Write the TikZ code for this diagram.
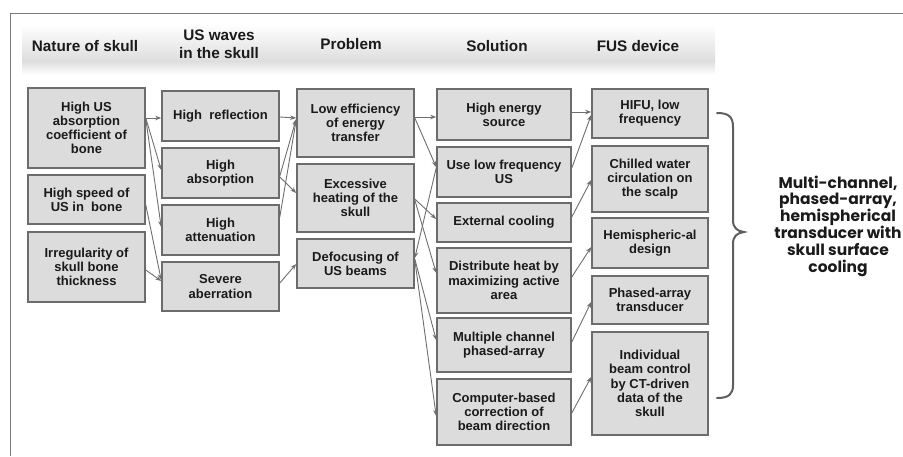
\documentclass[tikz,border=0pt]{standalone}
\usepackage{fontspec}
\setmainfont{Liberation Sans}
\newfontfamily\geofont{Poppins}
\usetikzlibrary{arrows.meta}
\definecolor{boxfill}{HTML}{DCDCDC}
\definecolor{boxline}{HTML}{6C6C6C}
\definecolor{arrline}{HTML}{6E6E6E}
\definecolor{ink}{HTML}{1A1A1A}
\definecolor{band}{HTML}{DEDEDE}
\definecolor{framec}{HTML}{7A7A7A}
\definecolor{bracec}{HTML}{5E5E5E}

\begin{document}
\begin{tikzpicture}[x=1pt,y=-1pt,
  box/.style={draw=boxline, fill=boxfill, line width=1.6pt, text=ink,
    align=center, inner sep=0pt,
    font=\bfseries\fontsize{13}{14.2}\selectfont},
  arr/.style={draw=arrline, line width=0.9pt,
    -{Stealth[length=6pt,width=4.5pt]}},
  hdr/.style={text=ink, align=center,
    font=\bfseries\fontsize{15.3}{18}\selectfont},
  wA/.style={minimum width=117pt},
  wD/.style={minimum width=134pt},
  wE/.style={minimum width=116pt},
]
\useasboundingbox (0,0) rectangle (903,456);

% outer frame (left and top edges)
\draw[framec, line width=1pt] (10,456) -- (10,13) -- (903,13);

% header band
\shade[top color=white, bottom color=band] (22,24) rectangle (715,61);
\shade[top color=band, bottom color=white] (22,61) rectangle (715,75);

% column headings
\node[hdr] (h1) at (85,46) {Nature of skull};
\node[hdr] (h2) at (219,44) {US waves\\in the skull};
\node[hdr] (h3) at (351,44) {Problem};
\node[hdr] (h4) at (497,46) {Solution};
\node[hdr] (h5) at (638,46) {FUS device};

% nature of skull
\node[box, wA, minimum height=80pt] (A1) at (86.5,128) {High US\\absorption\\coefficient of\\bone};
\node[box, wA, minimum height=49pt] (A2) at (86.5,199.5) {High speed of\\US in\ \ bone};
\node[box, wA, minimum height=70pt] (A3) at (86.5,267) {Irregularity of\\skull bone\\thickness};

% US waves in the skull
\node[box, wA, minimum height=50pt] (B1) at (220.5,116) {High\ \ reflection};
\node[box, wA, minimum height=50pt] (B2) at (220.5,173) {High\\absorption};
\node[box, wA, minimum height=50pt] (B3) at (220.5,230) {High\\attenuation};
\node[box, wA, minimum height=49pt] (B4) at (220.5,286.5) {Severe\\aberration};

% problem
\node[box, wA, minimum height=68pt] (C1) at (355.5,123) {Low efficiency\\of energy\\transfer};
\node[box, wA, minimum height=68pt] (C2) at (355.5,198) {Excessive\\heating of the\\skull};
\node[box, wA, minimum height=49pt] (C3) at (355.5,263.5) {Defocusing of\\US beams};

% solution
\node[box, wD, minimum height=51pt] (D1) at (504,114.5) {High energy\\source};
\node[box, wD, minimum height=50pt] (D2) at (504,172) {Use low frequency\\US};
\node[box, wD, minimum height=39pt] (D3) at (504,222.5) {External cooling};
\node[box, wD, minimum height=65pt] (D4) at (504,280.5) {Distribute heat by\\maximizing active\\area};
\node[box, wD, minimum height=54pt] (D5) at (504,345) {Multiple channel\\phased-array};
\node[box, wD, minimum height=66pt] (D6) at (504,412) {Computer-based\\correction of\\beam direction};

% FUS device
\node[box, wE, minimum height=49pt] (E1) at (650,113.5) {HIFU, low\\frequency};
\node[box, wE, minimum height=66pt] (E2) at (650,179) {Chilled water\\circulation on\\the scalp};
\node[box, wE, minimum height=50pt] (E3) at (650,243) {Hemispheric-al\\design};
\node[box, wE, minimum height=48pt] (E4) at (650,300) {Phased-array\\transducer};
\node[box, wE, minimum height=103pt] (E5) at (650,383.5) {Individual\\beam control\\by CT-driven\\data of the\\skull};

% nature of skull -> US waves
\draw[arr] (A1.east |- 0,118) -- (B1.west |- 0,118);
\draw[arr] (A1.east |- 0,118) -- (B2.west |- 0,170);
\draw[arr] (A1.east |- 0,119) -- (B3.west |- 0,227);
\draw[arr] (A2.east |- 0,205) -- (B4.west |- 0,280);
\draw[arr] (A3.east |- 0,270) -- (B4.west |- 0,281);

% US waves -> problem
\draw[arr] (B1.east |- 0,117) -- (C1.west |- 0,118);
\draw[arr] (B2.east |- 0,176) -- (C1.west |- 0,119);
\draw[arr] (B2.east |- 0,177) -- (C2.west |- 0,193);
\draw[arr] (B3.east |- 0,217) -- (C1.west |- 0,120);
\draw[arr] (B4.east |- 0,283) -- (C3.west |- 0,264);

% problem -> solution
\draw[arr] (C1.east |- 0,117) -- (D1.west |- 0,117);
\draw[arr] (C1.east |- 0,118) -- (D2.west |- 0,167);
\draw[arr] (C2.east |- 0,199) -- (D3.west |- 0,219);
\draw[arr] (C2.east |- 0,200) -- (D4.west |- 0,273);
\draw[arr] (D2.west |- 0,168) -- (C3.east |- 0,258);
\draw[arr] (C3.east |- 0,259) -- (D5.west |- 0,340);
\draw[arr] (C3.east |- 0,260) -- (D6.west |- 0,416);

% solution -> FUS device
\draw[arr] (D1.east |- 0,112) -- (E1.west |- 0,112);
\draw[arr] (D2.east |- 0,168) -- (E1.west |- 0,115);
\draw[arr] (D3.east |- 0,217) -- (E2.west |- 0,180);
\draw[arr] (D4.east |- 0,277) -- (E3.west |- 0,247);
\draw[arr] (D5.east |- 0,342) -- (E4.west |- 0,302);
\draw[arr] (D6.east |- 0,413) -- (E5.west |- 0,377);

% brace grouping the device features
\draw[bracec, line width=2pt, line cap=round]
  (717,113) .. controls (729,113) and (733,117) .. (733,127)
  -- (733,220) .. controls (733,228) and (737,231) .. (744,232)
  .. controls (737,233) and (733,236) .. (733,244)
  -- (733,385) .. controls (733,394) and (729,398) .. (717,398);

\node[text=ink, align=center, font=\geofont\bfseries\fontsize{15.5}{16.8}\selectfont]
  (summary) at (838,226) {Multi-channel,\\phased-array,\\hemispherical\\transducer with\\skull surface\\cooling};
\end{tikzpicture}
\end{document}
